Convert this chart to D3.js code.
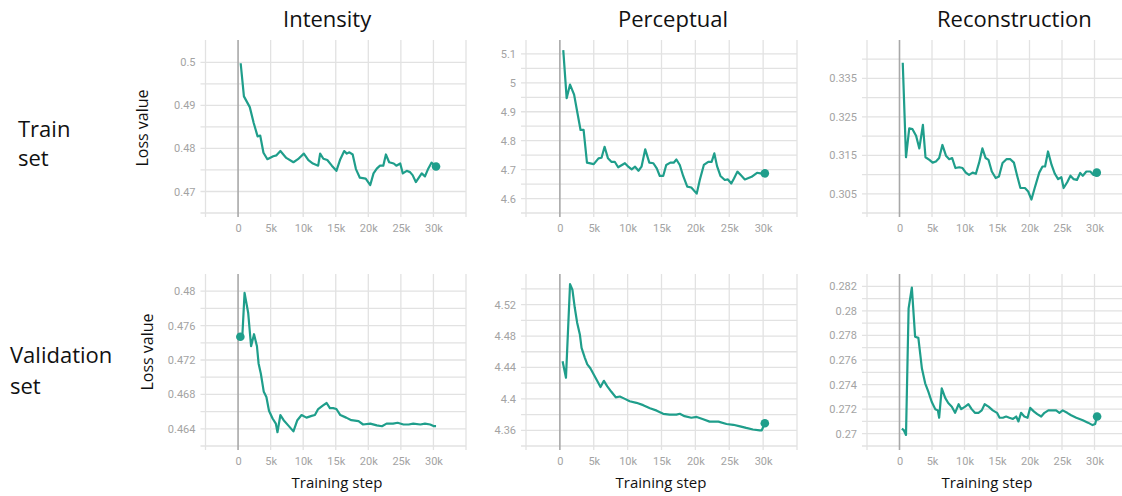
<!DOCTYPE html>
<html>
<head>
<meta charset="utf-8">
<script src="https://cdn.jsdelivr.net/npm/d3@7"></script>
<style>
    body { margin: 0; background: white; }
    svg { display: block; }
</style>
</head>
<body>
<div id="chart"></div>
<script>
// training step is in thousands (k)
var trainIntensitySteps = [0.4, 0.9, 1.8, 2.4, 3.0, 3.4, 3.9, 4.5, 5.4, 5.9, 6.5, 7.4, 8.5, 9.2, 10.1, 10.8, 11.5, 12.3, 12.6, 13.1, 13.7, 14.4, 15.1, 15.7, 16.3, 16.7, 17.1, 17.6, 18.1, 18.7, 19.6, 20.3, 20.8, 21.3, 21.8, 22.3, 22.7, 23.2, 23.9, 24.3, 24.9, 25.3, 25.9, 26.4, 26.8, 27.3, 28.2, 28.7, 29.2, 29.7, 30.4];
var trainIntensityLoss = [0.4998, 0.4921, 0.4896, 0.4859, 0.4828, 0.483, 0.479, 0.4775, 0.4782, 0.4784, 0.4794, 0.4778, 0.4768, 0.4775, 0.4788, 0.4773, 0.4765, 0.476, 0.4788, 0.4776, 0.4773, 0.476, 0.4748, 0.4775, 0.4794, 0.4788, 0.4791, 0.4786, 0.4752, 0.4732, 0.473, 0.4715, 0.4742, 0.4753, 0.476, 0.476, 0.4786, 0.4768, 0.4765, 0.476, 0.4765, 0.4742, 0.4748, 0.4745, 0.4738, 0.4722, 0.4742, 0.4735, 0.4753, 0.4767, 0.4758];

var trainPerceptualSteps = [0.5, 1.0, 1.5, 2.1, 2.6, 3.05, 3.5, 4.0, 5.0, 5.7, 6.15, 6.6, 7.1, 7.6, 8.1, 8.6, 9.6, 10.1, 10.6, 11.1, 11.6, 12.05, 12.6, 13.2, 13.8, 14.3, 14.75, 15.25, 15.7, 16.3, 16.8, 17.2, 17.7, 18.2, 18.8, 19.4, 20.2, 20.65, 21.25, 21.9, 22.4, 22.8, 23.2, 23.7, 24.35, 24.8, 25.3, 25.7, 26.2, 26.7, 27.3, 28.3, 29.1, 29.6, 30.25];
var trainPerceptualLoss = [5.113, 4.947, 4.994, 4.959, 4.895, 4.837, 4.837, 4.724, 4.719, 4.739, 4.741, 4.779, 4.739, 4.727, 4.727, 4.708, 4.722, 4.71, 4.701, 4.71, 4.696, 4.71, 4.77, 4.724, 4.722, 4.704, 4.678, 4.678, 4.716, 4.724, 4.724, 4.735, 4.716, 4.678, 4.641, 4.638, 4.617, 4.664, 4.716, 4.727, 4.727, 4.756, 4.712, 4.678, 4.664, 4.666, 4.652, 4.669, 4.693, 4.681, 4.666, 4.675, 4.689, 4.687, 4.687];

var trainReconSteps = [0.5, 1.0, 1.5, 2.0, 2.55, 3.05, 3.6, 4.0, 4.6, 5.1, 5.6, 6.1, 6.6, 7.15, 7.65, 8.1, 8.6, 9.2, 9.7, 10.2, 10.7, 11.25, 11.75, 12.25, 12.75, 13.25, 13.7, 14.2, 14.8, 15.3, 15.85, 16.45, 17.05, 17.6, 18.1, 18.6, 19.3, 19.8, 20.3, 20.8, 21.5, 22.0, 22.4, 22.85, 23.4, 23.9, 24.4, 24.9, 25.25, 25.8, 26.3, 26.8, 27.3, 27.8, 28.2, 28.75, 29.35, 29.85, 30.35];
var trainReconLoss = [0.3391, 0.3145, 0.322, 0.3218, 0.3201, 0.3168, 0.3229, 0.3145, 0.3138, 0.3131, 0.3134, 0.3143, 0.3177, 0.3149, 0.314, 0.3143, 0.3117, 0.3119, 0.3117, 0.3105, 0.3099, 0.3105, 0.3102, 0.3131, 0.3168, 0.3143, 0.3138, 0.3108, 0.3091, 0.3095, 0.313, 0.314, 0.314, 0.3131, 0.3097, 0.3065, 0.3065, 0.3056, 0.3035, 0.3065, 0.3105, 0.3121, 0.3121, 0.316, 0.3125, 0.3102, 0.3088, 0.3093, 0.3065, 0.308, 0.3097, 0.3088, 0.3086, 0.3104, 0.3097, 0.3108, 0.3108, 0.3099, 0.3105];

var valIntensitySteps = [0.35, 0.65, 1.0, 1.55, 2.0, 2.45, 2.9, 3.15, 3.5, 3.95, 4.35, 4.75, 5.3, 5.8, 6.05, 6.5, 7.0, 7.7, 8.5, 9.1, 9.75, 10.5, 11.3, 11.8, 12.3, 13.0, 13.6, 14.1, 14.6, 15.1, 15.7, 16.6, 17.4, 18.5, 19.2, 20.3, 21.3, 22.1, 22.8, 23.8, 24.5, 25.4, 26.2, 26.9, 28.0, 28.7, 29.5, 30.1, 30.4];
var valIntensityLoss = [0.4747, 0.4747, 0.4798, 0.4775, 0.4736, 0.475, 0.4736, 0.4716, 0.4704, 0.4683, 0.4677, 0.4661, 0.4652, 0.4646, 0.4636, 0.4656, 0.465, 0.4644, 0.4637, 0.465, 0.4656, 0.4653, 0.4655, 0.4656, 0.4663, 0.4667, 0.467, 0.4664, 0.4664, 0.4663, 0.4656, 0.4653, 0.465, 0.4649, 0.4645, 0.4646, 0.4644, 0.4643, 0.4646, 0.4646, 0.4647, 0.4645, 0.4645, 0.4646, 0.4645, 0.4646, 0.4645, 0.4643, 0.4643];

var valPerceptualSteps = [0.4, 0.9, 1.5, 1.85, 2.2, 2.55, 2.95, 3.2, 3.7, 4.05, 4.5, 5.0, 5.5, 6.0, 6.5, 7.0, 7.6, 8.25, 8.85, 9.6, 10.3, 11.3, 12.3, 13.3, 14.3, 15.25, 16.2, 17.2, 17.7, 18.4, 19.4, 20.2, 21.15, 22.1, 23.4, 24.6, 25.6, 26.6, 27.5, 28.5, 29.5, 29.8, 30.25];
var valPerceptualLoss = [4.448, 4.427, 4.546, 4.539, 4.516, 4.497, 4.482, 4.465, 4.452, 4.444, 4.439, 4.431, 4.423, 4.415, 4.423, 4.416, 4.409, 4.402, 4.403, 4.4, 4.397, 4.395, 4.392, 4.388, 4.385, 4.381, 4.38, 4.38, 4.381, 4.378, 4.376, 4.377, 4.374, 4.371, 4.371, 4.368, 4.367, 4.365, 4.363, 4.361, 4.36, 4.36, 4.369];

var valReconSteps = [0.35, 0.65, 1.0, 1.4, 1.9, 2.4, 2.9, 3.45, 3.95, 4.45, 4.95, 5.5, 5.9, 6.1, 6.5, 7.05, 7.5, 8.05, 8.55, 9.1, 9.5, 10.1, 10.6, 11.1, 11.6, 12.15, 12.65, 13.1, 13.7, 14.35, 15.0, 15.4, 15.9, 16.4, 16.9, 17.45, 17.95, 18.3, 18.7, 19.2, 19.7, 20.1, 20.7, 21.2, 21.8, 22.3, 22.9, 23.4, 24.1, 24.6, 25.1, 25.8, 26.4, 27.2, 27.7, 28.2, 29.0, 29.7, 30.1, 30.4];
var valReconLoss = [0.2704, 0.2703, 0.2699, 0.2802, 0.2819, 0.2779, 0.2778, 0.2753, 0.2741, 0.2734, 0.2726, 0.272, 0.2719, 0.2713, 0.2737, 0.2729, 0.2725, 0.2722, 0.2717, 0.2724, 0.272, 0.2722, 0.2724, 0.272, 0.2717, 0.2717, 0.2719, 0.2724, 0.2722, 0.2719, 0.2717, 0.2713, 0.2713, 0.2714, 0.2713, 0.2712, 0.2714, 0.271, 0.2717, 0.2714, 0.2713, 0.2721, 0.2718, 0.2716, 0.2714, 0.2717, 0.2719, 0.2719, 0.2719, 0.2717, 0.2719, 0.2717, 0.2715, 0.2713, 0.2712, 0.2711, 0.2709, 0.2707, 0.2708, 0.2714];

// axes: tick labels and grid values
var xTickLabels = [0, 5, 10, 15, 20, 25, 30];
var xGrid = [-5, 0, 5, 10, 15, 20, 25, 30, 35];

var trainIntensityTicks = [0.5, 0.49, 0.48, 0.47];
var trainIntensityGrid = [0.465, 0.47, 0.475, 0.48, 0.485, 0.49, 0.495, 0.5];
var trainPerceptualTicks = [5.1, 5, 4.9, 4.8, 4.7, 4.6];
var trainPerceptualGrid = [4.55, 4.6, 4.65, 4.7, 4.75, 4.8, 4.85, 4.9, 4.95, 5, 5.05, 5.1];
var trainReconTicks = [0.335, 0.325, 0.315, 0.305];
var trainReconGrid = [0.3, 0.305, 0.31, 0.315, 0.32, 0.325, 0.33, 0.335, 0.34];
var valIntensityTicks = [0.48, 0.476, 0.472, 0.468, 0.464];
var valIntensityGrid = [0.462, 0.464, 0.466, 0.468, 0.47, 0.472, 0.474, 0.476, 0.478, 0.48];
var valPerceptualTicks = [4.52, 4.48, 4.44, 4.4, 4.36];
var valPerceptualGrid = [4.34, 4.36, 4.38, 4.4, 4.42, 4.44, 4.46, 4.48, 4.5, 4.52, 4.54];
var valReconTicks = [0.282, 0.28, 0.278, 0.276, 0.274, 0.272, 0.27];
var valReconGrid = [0.269, 0.27, 0.271, 0.272, 0.273, 0.274, 0.275, 0.276, 0.277, 0.278, 0.279, 0.28, 0.281, 0.282];

var columnTitles = ['Intensity', 'Perceptual', 'Reconstruction'];
var rowTitles = [['Train', 'set'], ['Validation', 'set']];

var line_color = '#1f9e8b';
var grid_color = '#e2e2e2';
var label_color = '#a3a3a3';

var svg = d3.select('#chart')
    .append('svg')
    .attr('width', 1122)
    .attr('height', 496);

svg.append('rect')
    .attr('width', 1122)
    .attr('height', 496)
    .attr('fill', 'white');

function makeLossPlot(parent, options) {
    var that = {};
    var config = {
        left: options.left,
        right: options.right,
        top: options.top,
        bottom: options.bottom
    };
    that.config = config;

    function render() {
        var g = parent.append('g').attr('class', 'loss_plot');

        var x = d3.scaleLinear()
            .domain([-5, 35])
            .range([config.left, config.right]);
        var y = d3.scaleLinear()
            .domain(options.yDomain)
            .range([config.bottom, config.top]);

        // horizontal grid
        g.selectAll('.hgrid')
            .data(options.yGrid)
            .enter()
            .append('line')
            .attr('class', 'hgrid')
            .attr('x1', config.left - 5)
            .attr('x2', config.right)
            .attr('y1', function (d) { return y(d); })
            .attr('y2', function (d) { return y(d); })
            .style('stroke', grid_color)
            .style('stroke-width', 1.3);

        // vertical grid
        g.selectAll('.vgrid')
            .data(xGrid)
            .enter()
            .append('line')
            .attr('class', 'vgrid')
            .attr('x1', function (d) { return x(d); })
            .attr('x2', function (d) { return x(d); })
            .attr('y1', config.top)
            .attr('y2', config.bottom + 4)
            .style('stroke', function (d) { return d === 0 ? '#a8a8a8' : grid_color; })
            .style('stroke-width', function (d) { return d === 0 ? 1.6 : 1.3; });

        var yAxis = d3.axisLeft(y)
            .tickValues(options.yTicks)
            .tickSize(0)
            .tickPadding(10)
            .tickFormat(function (d) { return String(d); });

        g.append('g')
            .attr('transform', 'translate(' + config.left + ',0)')
            .call(yAxis)
            .call(function (a) { a.select('.domain').remove(); })
            .selectAll('text')
            .style('fill', label_color)
            .style('font-family', 'Roboto, sans-serif')
            .style('font-size', '11px');

        var xAxis = d3.axisBottom(x)
            .tickValues(xTickLabels)
            .tickSize(0)
            .tickPadding(11)
            .tickFormat(function (d) { return d === 0 ? '0' : d + 'k'; });

        g.append('g')
            .attr('transform', 'translate(0,' + config.bottom + ')')
            .call(xAxis)
            .call(function (a) { a.select('.domain').remove(); })
            .selectAll('text')
            .style('fill', label_color)
            .style('font-family', 'Roboto, sans-serif')
            .style('font-size', '11px');

        var points = options.steps.map(function (s, i) {
            return [s, options.loss[i]];
        });

        var line = d3.line()
            .x(function (d) { return x(d[0]); })
            .y(function (d) { return y(d[1]); });

        g.append('path')
            .datum(points)
            .attr('d', line)
            .attr('fill', 'none')
            .style('stroke', line_color)
            .style('stroke-width', 2.2)
            .style('stroke-linejoin', 'round');

        var dot = points[options.dotIndex];
        g.append('circle')
            .attr('cx', x(dot[0]))
            .attr('cy', y(dot[1]))
            .attr('r', 4.3)
            .attr('fill', line_color);
    }

    that.render = render;
    return that;
}

var columns = [[205.5, 466], [526, 797], [867, 1127]];
var rows = [[40, 213], [274, 446]];

var panels = [
    { row: 0, col: 0, steps: trainIntensitySteps, loss: trainIntensityLoss, yDomain: [0.465, 0.5052], yTicks: trainIntensityTicks, yGrid: trainIntensityGrid, dotIndex: trainIntensitySteps.length - 1 },
    { row: 0, col: 1, steps: trainPerceptualSteps, loss: trainPerceptualLoss, yDomain: [4.55, 5.148], yTicks: trainPerceptualTicks, yGrid: trainPerceptualGrid, dotIndex: trainPerceptualSteps.length - 1 },
    { row: 0, col: 2, steps: trainReconSteps, loss: trainReconLoss, yDomain: [0.3, 0.345], yTicks: trainReconTicks, yGrid: trainReconGrid, dotIndex: trainReconSteps.length - 1 },
    { row: 1, col: 0, steps: valIntensitySteps, loss: valIntensityLoss, yDomain: [0.462, 0.482], yTicks: valIntensityTicks, yGrid: valIntensityGrid, dotIndex: 0 },
    { row: 1, col: 1, steps: valPerceptualSteps, loss: valPerceptualLoss, yDomain: [4.34, 4.559], yTicks: valPerceptualTicks, yGrid: valPerceptualGrid, dotIndex: valPerceptualSteps.length - 1 },
    { row: 1, col: 2, steps: valReconSteps, loss: valReconLoss, yDomain: [0.269, 0.283], yTicks: valReconTicks, yGrid: valReconGrid, dotIndex: valReconSteps.length - 1 }
];

panels.forEach(function (p) {
    var plot = makeLossPlot(svg, {
        left: columns[p.col][0],
        right: columns[p.col][1],
        top: rows[p.row][0],
        bottom: rows[p.row][1],
        steps: p.steps,
        loss: p.loss,
        yDomain: p.yDomain,
        yTicks: p.yTicks,
        yGrid: p.yGrid,
        dotIndex: p.dotIndex
    });
    plot.render();
});

// column titles
var title_x = [283, 618, 937];
svg.selectAll('.col_title')
    .data(columnTitles)
    .enter()
    .append('text')
    .attr('class', 'col_title')
    .attr('x', function (d, i) { return title_x[i]; })
    .attr('y', 27)
    .style('font-family', '"Open Sans", sans-serif')
    .style('font-size', '22px')
    .style('fill', '#111')
    .text(function (d) { return d; });

// row titles
var row_x = [18, 10];
var row_y = [[137, 166], [363, 394]];
rowTitles.forEach(function (words, r) {
    words.forEach(function (w, k) {
        svg.append('text')
            .attr('x', row_x[r])
            .attr('y', row_y[r][k])
            .style('font-family', '"Open Sans", sans-serif')
            .style('font-size', '22px')
            .style('fill', '#111')
            .text(w);
    });
});

// y axis titles
[[148, 128], [153, 352]].forEach(function (pos) {
    svg.append('text')
        .attr('transform', 'translate(' + pos[0] + ',' + pos[1] + ') rotate(-90)')
        .attr('text-anchor', 'middle')
        .style('font-family', '"Open Sans", sans-serif')
        .style('font-size', '16px')
        .style('fill', '#111')
        .text('Loss value');
});

// x axis titles
[337, 661, 987].forEach(function (cx) {
    svg.append('text')
        .attr('x', cx)
        .attr('y', 488)
        .attr('text-anchor', 'middle')
        .style('font-family', '"Open Sans", sans-serif')
        .style('font-size', '15px')
        .style('fill', '#111')
        .text('Training step');
});
</script>
</body>
</html>
